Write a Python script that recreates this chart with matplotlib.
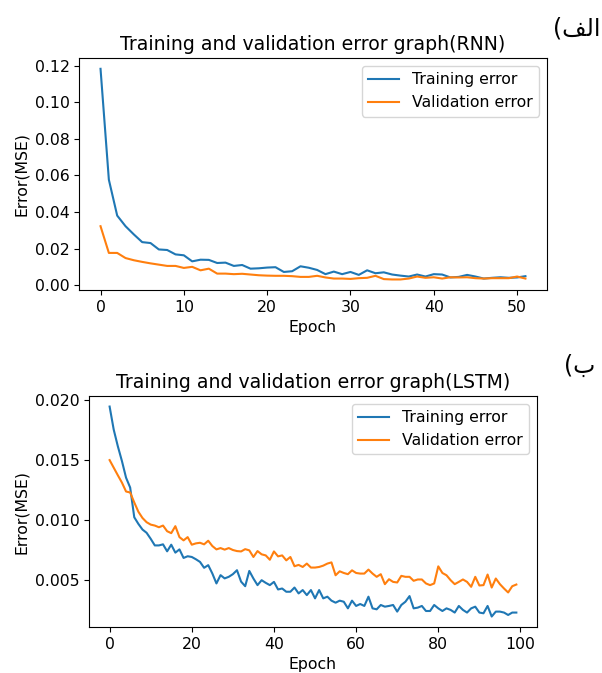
import numpy as np
import matplotlib
matplotlib.use("Agg")
import matplotlib.pyplot as plt
from matplotlib.ticker import MultipleLocator

plt.rcParams['font.size'] = 11.3

# RNN run (52 epochs)
rnn_train = [0.1182, 0.0576, 0.0380, 0.0322, 0.0277, 0.0235, 0.0230, 0.0195, 0.0192, 0.0168,
             0.0163, 0.0130, 0.0139, 0.0138, 0.0121, 0.0123, 0.0105, 0.0110, 0.0090, 0.0092,
             0.0096, 0.0098, 0.0072, 0.0076, 0.0103, 0.0095, 0.0083, 0.0060, 0.0074, 0.0060,
             0.0072, 0.0056, 0.0081, 0.0065, 0.0070, 0.0058, 0.0052, 0.0047, 0.0058, 0.0047,
             0.0060, 0.0058, 0.0042, 0.0045, 0.0056, 0.0047, 0.0036, 0.0040, 0.0043, 0.0040,
             0.0042, 0.0049]
rnn_val = [0.0322, 0.0176, 0.0176, 0.0148, 0.0136, 0.0127, 0.0119, 0.0112, 0.0105, 0.0105,
           0.0094, 0.0100, 0.0081, 0.0090, 0.0063, 0.0063, 0.0060, 0.0062, 0.0058, 0.0054,
           0.0052, 0.0051, 0.0051, 0.0049, 0.0045, 0.0045, 0.0051, 0.0042, 0.0036, 0.0036,
           0.0034, 0.0038, 0.0040, 0.0051, 0.0033, 0.0031, 0.0031, 0.0036, 0.0047, 0.0040,
           0.0043, 0.0036, 0.0043, 0.0042, 0.0043, 0.0038, 0.0036, 0.0038, 0.0038, 0.0038,
           0.0047, 0.0036]

# LSTM run (100 epochs)
lstm_train = [0.01945, 0.01753, 0.01615, 0.01492, 0.01354, 0.01272, 0.01025, 0.00970, 0.00923, 0.00896,
              0.00846, 0.00791, 0.00791, 0.00800, 0.00742, 0.00797, 0.00731, 0.00758, 0.00687, 0.00701,
              0.00695, 0.00676, 0.00654, 0.00605, 0.00627, 0.00558, 0.00475, 0.00544, 0.00517, 0.00530,
              0.00552, 0.00585, 0.00490, 0.00452, 0.00579, 0.00516, 0.00461, 0.00502, 0.00480, 0.00461,
              0.00488, 0.00425, 0.00433, 0.00406, 0.00406, 0.00441, 0.00392, 0.00420, 0.00378, 0.00420,
              0.00351, 0.00420, 0.00351, 0.00365, 0.00332, 0.00315, 0.00332, 0.00323, 0.00268, 0.00332,
              0.00288, 0.00304, 0.00288, 0.00365, 0.00268, 0.00260, 0.00296, 0.00282, 0.00288, 0.00296,
              0.00241, 0.00296, 0.00323, 0.00370, 0.00268, 0.00274, 0.00288, 0.00246, 0.00246, 0.00296,
              0.00268, 0.00246, 0.00268, 0.00255, 0.00233, 0.00288, 0.00255, 0.00233, 0.00268, 0.00282,
              0.00233, 0.00227, 0.00288, 0.00200, 0.00241, 0.00241, 0.00233, 0.00213, 0.00233, 0.00233]
lstm_val = [0.01500, 0.01437, 0.01374, 0.01313, 0.01239, 0.01231, 0.01148, 0.01071, 0.01019, 0.00984,
            0.00964, 0.00956, 0.00942, 0.00956, 0.00909, 0.00893, 0.00951, 0.00860, 0.00833, 0.00860,
            0.00797, 0.00808, 0.00813, 0.00800, 0.00830, 0.00786, 0.00758, 0.00769, 0.00756, 0.00769,
            0.00753, 0.00744, 0.00741, 0.00760, 0.00750, 0.00695, 0.00744, 0.00717, 0.00708, 0.00672,
            0.00741, 0.00700, 0.00708, 0.00667, 0.00695, 0.00618, 0.00629, 0.00612, 0.00640, 0.00607,
            0.00607, 0.00612, 0.00623, 0.00640, 0.00650, 0.00543, 0.00576, 0.00562, 0.00552, 0.00584,
            0.00562, 0.00557, 0.00557, 0.00590, 0.00557, 0.00530, 0.00552, 0.00469, 0.00510, 0.00488,
            0.00483, 0.00538, 0.00530, 0.00530, 0.00497, 0.00508, 0.00508, 0.00475, 0.00461, 0.00475,
            0.00617, 0.00562, 0.00543, 0.00502, 0.00469, 0.00488, 0.00508, 0.00488, 0.00447, 0.00530,
            0.00458, 0.00461, 0.00549, 0.00441, 0.00516, 0.00469, 0.00433, 0.00400, 0.00452, 0.00466]

# panel labels, written in visual order with Arabic presentation forms
label_a = "(\uFED2\uFEDF\uFE8D"   # الف)
label_b = "(\uFE8F"               # ب)

fig = plt.figure(figsize=(6.02, 6.73), dpi=100)

ax1 = fig.add_axes([0.1317, 0.5691, 0.7764, 0.3443])
ax1.plot(np.arange(len(rnn_train)), rnn_train, label="Training error")
ax1.plot(np.arange(len(rnn_val)), rnn_val, label="Validation error")
ax1.set_title("Training and validation error graph(RNN)")
ax1.set_xlabel("Epoch")
ax1.set_ylabel("Error(MSE)")
ax1.yaxis.set_major_locator(MultipleLocator(0.02))
ax1.legend(loc="upper right")

ax2 = fig.add_axes([0.1483, 0.0683, 0.7432, 0.3432])
ax2.plot(np.arange(len(lstm_train)), lstm_train, label="Training error")
ax2.plot(np.arange(len(lstm_val)), lstm_val, label="Validation error")
ax2.set_title("Training and validation error graph(LSTM)")
ax2.set_xlabel("Epoch")
ax2.set_ylabel("Error(MSE)")
ax2.yaxis.set_major_locator(MultipleLocator(0.005))
ax2.legend(loc="upper right")

fig.text(0.958, 0.958, label_a, fontsize=17, family="DejaVu Sans", ha="center", va="center")
fig.text(0.963, 0.456, label_b, fontsize=17, family="DejaVu Sans", ha="center", va="center")

fig.savefig("out.png", dpi=100)
